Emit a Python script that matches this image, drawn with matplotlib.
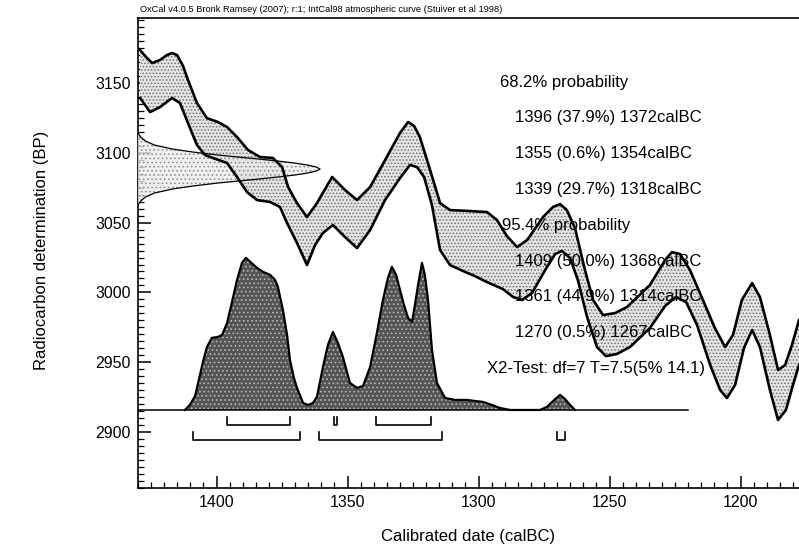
import numpy as np
import matplotlib.pyplot as plt
from matplotlib.ticker import MultipleLocator

plt.rcParams['font.family'] = ['Liberation Sans', 'DejaVu Sans']
plt.rcParams['hatch.linewidth'] = 0.7

# IntCal98 curve, upper and lower edge of the band (calBC, BP)
cal_up_yr = [1429.2, 1426.9, 1424.6, 1421.6, 1418.9, 1417.0, 1415.1, 1412.8, 1410.9, 1407.5,
             1403.7, 1399.5, 1396.0, 1392.2, 1388.0, 1383.4, 1378.5, 1375.0, 1372.7, 1369.3,
             1365.5, 1361.7, 1355.9, 1351.0, 1346.4, 1341.4, 1335.7, 1330.0, 1326.9, 1324.6,
             1322.4, 1318.5, 1314.7, 1310.9, 1303.3, 1296.8, 1293.0, 1289.2, 1285.3, 1281.5,
             1275.4, 1271.6, 1268.9, 1266.3, 1263.2, 1259.4, 1256.3, 1252.5, 1247.9, 1243.4,
             1234.6, 1228.8, 1226.2, 1223.1, 1219.3, 1214.4, 1209.8, 1205.9, 1202.9, 1199.5,
             1195.6, 1192.6, 1188.8, 1185.7, 1183.0, 1180.4, 1177.7]
cal_up_bp = [3173.6, 3168.6, 3164.3, 3166.5, 3170.1, 3171.5, 3170.1, 3162.2, 3152.1, 3135.7,
             3124.9, 3122.1, 3118.5, 3111.3, 3102.0, 3097.0, 3096.3, 3089.8, 3075.5, 3064.0,
             3054.0, 3064.0, 3082.7, 3073.4, 3066.2, 3075.5, 3094.8, 3114.2, 3122.1, 3119.2,
             3111.3, 3087.7, 3064.0, 3059.0, 3058.3, 3057.6, 3051.9, 3040.4, 3032.5, 3037.5,
             3054.0, 3061.2, 3063.3, 3059.0, 3046.1, 3016.0, 2994.6, 2983.8, 2985.2, 2989.5,
             3005.3, 3023.2, 3028.9, 3027.5, 3016.0, 2994.6, 2974.5, 2960.9, 2969.5, 2994.6,
             3006.7, 2996.7, 2969.5, 2944.4, 2948.0, 2962.3, 2980.2]
cal_lo_yr = [1429.2, 1425.4, 1421.6, 1417.0, 1414.0, 1410.9, 1407.5, 1404.4, 1401.4, 1396.0,
             1392.2, 1388.4, 1384.6, 1379.6, 1375.8, 1373.1, 1369.3, 1365.5, 1362.4, 1359.4,
             1355.6, 1351.0, 1346.4, 1341.4, 1335.7, 1330.0, 1326.2, 1323.5, 1320.8, 1317.8,
             1314.7, 1310.9, 1305.9, 1301.4, 1296.8, 1290.7, 1286.8, 1283.4, 1279.6, 1274.6,
             1270.8, 1268.2, 1265.1, 1262.1, 1258.6, 1254.8, 1251.4, 1247.2, 1242.2, 1234.6,
             1228.8, 1224.7, 1220.8, 1216.6, 1211.6, 1207.8, 1205.2, 1202.1, 1198.7, 1195.6,
             1192.6, 1188.8, 1185.7, 1182.7, 1180.0, 1177.7]
cal_lo_bp = [3139.3, 3129.2, 3132.8, 3139.3, 3135.7, 3121.3, 3105.6, 3098.4, 3096.3, 3092.7,
             3082.7, 3071.9, 3066.2, 3064.8, 3061.2, 3049.7, 3035.4, 3019.6, 3034.0, 3042.6,
             3048.3, 3039.7, 3031.8, 3044.7, 3066.2, 3081.9, 3091.3, 3089.8, 3082.7, 3062.6,
             3030.4, 3019.6, 3015.3, 3011.7, 3007.4, 3002.4, 2996.7, 2994.6, 2999.6, 3016.0,
             3027.5, 3029.7, 3024.6, 3008.9, 2982.4, 2960.9, 2954.4, 2955.9, 2960.9, 2974.5,
             2990.3, 2996.7, 2993.1, 2976.6, 2948.0, 2930.1, 2924.4, 2933.7, 2960.2, 2973.1,
             2960.9, 2930.1, 2908.6, 2915.8, 2933.7, 2948.0]

# radiocarbon determination: centre and profile (offset in BP, relative height)
date_bp = 3088.4
date_off = [0, 1.4, 2.9, 4.3, 5.7, 7.2, 8.6, 10.0, 12.2, 14.3, 17.2, 20.1, 22.9, 25.8]
date_rel = [1.0, 0.98, 0.93, 0.86, 0.77, 0.66, 0.55, 0.44, 0.30, 0.19, 0.09, 0.04, 0.015, 0.0]

# calibrated date distribution (relative probability)
prob_yr = [1412.1, 1410.2, 1408.2, 1405.2, 1403.7, 1401.8, 1399.5, 1397.9, 1396.0, 1394.1,
           1392.2, 1390.3, 1388.8, 1387.2, 1384.6, 1382.3, 1379.6, 1377.7, 1376.6, 1374.7,
           1373.1, 1372.0, 1370.5, 1369.3, 1367.0, 1365.1, 1363.2, 1361.7, 1359.4, 1357.5,
           1355.6, 1353.7, 1351.8, 1349.1, 1346.4, 1344.1, 1341.4, 1338.8, 1336.5, 1334.6,
           1333.1, 1331.5, 1330.0, 1328.5, 1326.9, 1325.4, 1324.3, 1323.1, 1321.6, 1320.5,
           1319.3, 1317.8, 1315.9, 1312.8, 1309.0, 1304.4, 1301.4, 1298.3, 1294.9, 1291.8,
           1288.0, 1276.6, 1273.9, 1271.6, 1268.9, 1267.0, 1265.1, 1263.2]
prob_rel = [0.0, 0.033, 0.092, 0.316, 0.414, 0.474, 0.480, 0.493, 0.572, 0.711,
            0.855, 0.967, 1.0, 0.974, 0.934, 0.908, 0.888, 0.855, 0.809, 0.658,
            0.493, 0.329, 0.211, 0.145, 0.046, 0.033, 0.046, 0.086, 0.283, 0.428,
            0.513, 0.441, 0.349, 0.178, 0.145, 0.158, 0.283, 0.507, 0.724, 0.868,
            0.941, 0.888, 0.789, 0.691, 0.605, 0.579, 0.691, 0.822, 0.967, 0.888,
            0.724, 0.395, 0.178, 0.079, 0.066, 0.066, 0.059, 0.053, 0.033, 0.013,
            0.0, 0.0, 0.020, 0.059, 0.099, 0.072, 0.033, 0.0]

ranges_68 = [(1396, 1372), (1355, 1354), (1339, 1318)]
pct_68 = [37.9, 0.6, 29.7]
ranges_95 = [(1409, 1368), (1361, 1314), (1270, 1267)]
pct_95 = [50.0, 44.9, 0.5]

W, H = 799, 555
fig = plt.figure(figsize=(W / 100, H / 100), dpi=100)
ax = fig.add_axes([138 / W, 1 - 488 / H, (W - 138) / W, 470 / H])
x0, x1 = 1430.0, 1177.7
ax.set_xlim(x0, x1)
ax.set_ylim(2859.9, 3196.6)

# calibration band
band_x = np.concatenate([cal_up_yr, cal_lo_yr[::-1]])
band_y = np.concatenate([cal_up_bp, cal_lo_bp[::-1]])
ax.fill(band_x, band_y, facecolor='#e4e4e4', edgecolor='#707070', hatch='.....',
        linewidth=0, zorder=2)
ax.plot(cal_up_yr, cal_up_bp, color='black', lw=1.9, zorder=4)
ax.plot(cal_lo_yr, cal_lo_bp, color='black', lw=1.9, zorder=4)

# measured date drawn sideways from the BP axis
off = np.array(date_off)
rel = np.array(date_rel)
gy = np.concatenate([date_bp + off[::-1], date_bp - off[1:]])
gr = np.concatenate([rel[::-1], rel[1:]])
gx = x0 - gr * 69.5
ax.fill(gx, gy, facecolor='#ececec', edgecolor='#808080', hatch='....',
        linewidth=0, alpha=0.8, zorder=3)
ax.plot(gx, gy, color='black', lw=0.9, zorder=5)

# calibrated distribution
base = 2915.8
py = base + np.array(prob_rel) * 109
ax.fill_between(prob_yr, base, py, facecolor='#555555', edgecolor='#b8b8b8',
                hatch='....', linewidth=0, zorder=3)
ax.plot(prob_yr, py, color='black', lw=1.6, zorder=5)
ax.plot([x0, 1220.1], [base, base], color='black', lw=1.1, zorder=5)

# range brackets
for a, b in ranges_68:
    ax.plot([a, a, b, b], [2910.7, 2905, 2905, 2910.7], color='black', lw=1.2)
for a, b in ranges_95:
    ax.plot([a, a, b, b], [2900, 2894.3, 2894.3, 2900], color='black', lw=1.2)

ax.xaxis.set_major_locator(MultipleLocator(50))
ax.xaxis.set_minor_locator(MultipleLocator(5))
ax.yaxis.set_major_locator(MultipleLocator(50))
ax.yaxis.set_minor_locator(MultipleLocator(5))
ax.tick_params(which='major', direction='in', length=9, width=1.1, labelsize=11.5, pad=5)
ax.tick_params(which='minor', direction='in', length=4, width=0.9)
ax.tick_params(top=False, right=False, which='both')
ax.spines['right'].set_visible(False)
for s in ['left', 'top', 'bottom']:
    ax.spines[s].set_linewidth(1.2)

def px(x, y):
    return x / W, 1 - y / H

fig.text(*px(140, 9), 'OxCal v4.0.5 Bronk Ramsey (2007); r:1; IntCal98 atmospheric curve '
         '(Stuiver et al 1998)', fontsize=6.7, va='center')
fig.text(*px(468, 536), 'Calibrated date (calBC)', fontsize=12, ha='center', va='center')
fig.text(*px(42, 250), 'Radiocarbon determination (BP)', fontsize=12, ha='center',
         va='center', rotation=90)

lines = [('68.2% probability', 500)]
lines += [(f'{a} ({p:.1f}%) {b}calBC', 515) for (a, b), p in zip(ranges_68, pct_68)]
lines += [('95.4% probability', 502)]
lines += [(f'{a} ({p:.1f}%) {b}calBC', 515) for (a, b), p in zip(ranges_95, pct_95)]
lines += [('X2-Test: df=7 T=7.5(5% 14.1)', 487)]
for i, (t, x) in enumerate(lines):
    fig.text(*px(x, 82 + i * 35.8), t, fontsize=12, va='center', zorder=10)

fig.savefig('out.png', dpi=100)
